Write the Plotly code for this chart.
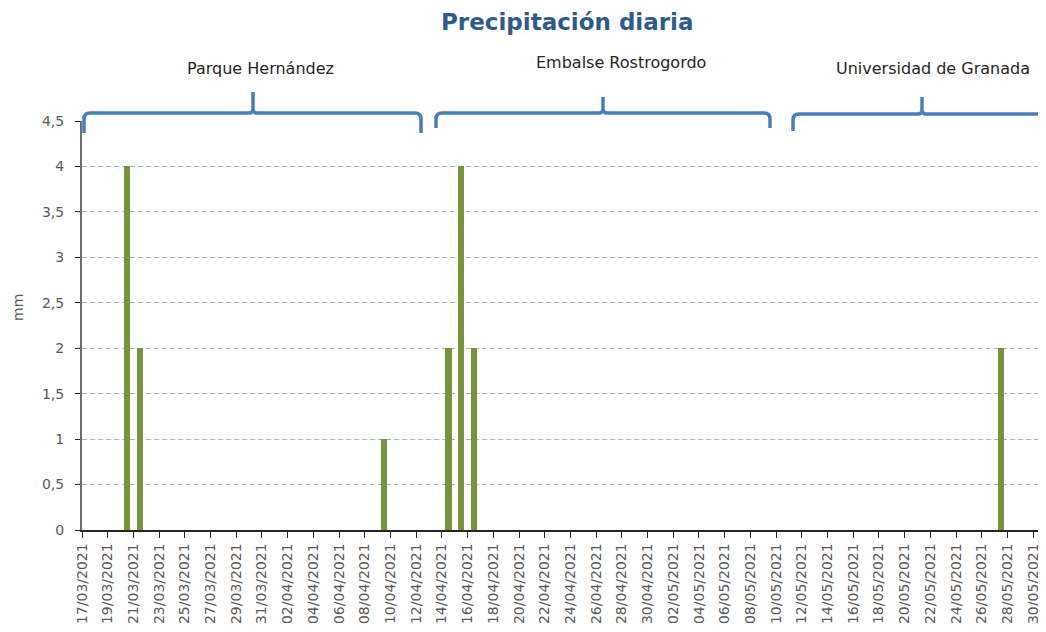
import plotly.graph_objects as go

# ---------------- data ----------------
rain_dates = ["2021-03-20", "2021-03-21", "2021-04-09", "2021-04-14",
              "2021-04-15", "2021-04-16", "2021-05-27"]
rain_mm = [4, 2, 1, 2, 4, 2, 2]

stations = ["Parque Hernández", "Embalse Rostrogordo", "Universidad de Granada"]
title_text = "Precipitación diaria"
y_title = "mm"

# ---------------- layout geometry ----------------
OX, OY = 8, 8            # page body margin of the html page
W, H = 1046 - OX, 632 - OY
L, R, T, B = 82 - OX, 0, 121 - OY, 102
PW, PH = W - L - R, H - T - B

def px_x(px):
    return (px - OX - L) / PW

def px_y(py):
    return (OY + H - B - py) / PH

DAY = 86400000

fig = go.Figure()
fig.add_trace(go.Bar(
    x=rain_dates, y=rain_mm,
    xperiod=DAY, xperiodalignment="middle",
    width=0.5 * DAY,
    marker=dict(color="#77933C", line=dict(width=0)),
    hoverinfo="x+y",
))

# curly braces above the plot
def brace(x0, x1, xm, ybar, yend, ypeak, r=6, r2=4):
    X = px_x
    Y = px_y
    p = (f"M {X(x0)} {Y(yend)} "
         f"L {X(x0)} {Y(ybar + r)} "
         f"Q {X(x0)} {Y(ybar)} {X(x0 + r)} {Y(ybar)} "
         f"L {X(xm - r2)} {Y(ybar)} "
         f"Q {X(xm)} {Y(ybar)} {X(xm)} {Y(ybar - r2)} "
         f"L {X(xm)} {Y(ypeak)} "
         f"L {X(xm)} {Y(ybar - r2)} "
         f"Q {X(xm)} {Y(ybar)} {X(xm + r2)} {Y(ybar)} "
         f"L {X(x1 - r)} {Y(ybar)} "
         f"Q {X(x1)} {Y(ybar)} {X(x1)} {Y(ybar + r)} "
         f"L {X(x1)} {Y(yend)}")
    return dict(type="path", xref="paper", yref="paper", path=p,
                line=dict(color="#4A7EBB", width=3.5), layer="above")

brace_geom = [
    (84, 421, 253, 113, 133, 92),
    (436, 770, 603, 113, 128, 97),
    (793, 1052, 922, 114, 131, 97),
]
shapes = [brace(*g) for g in brace_geom]

label_pos = [(260, 68), (621, 63), (933, 68)]
annotations = []
for name, (lx, ly) in zip(stations, label_pos):
    annotations.append(dict(
        text=name, xref="paper", yref="paper", x=px_x(lx), y=px_y(ly),
        xanchor="center", yanchor="middle", showarrow=False,
        font=dict(family="DejaVu Sans", size=16, color="#262626")))
annotations.append(dict(
    text=title_text, xref="paper", yref="paper", x=px_x(567), y=px_y(22),
    xanchor="center", yanchor="middle", showarrow=False,
    font=dict(family="DejaVu Sans", size=23, color="#2F5B8C", weight="bold")))
annotations.append(dict(
    text=y_title, xref="paper", yref="paper", x=px_x(18), y=px_y(308),
    xanchor="center", yanchor="middle", showarrow=False, textangle=-90,
    borderpad=0,
    font=dict(family="DejaVu Sans", size=14, color="#595959")))

fig.update_layout(
    width=W, height=H,
    margin=dict(l=L, r=R, t=T, b=B, pad=0),
    paper_bgcolor="white", plot_bgcolor="white",
    separators=", ",
    showlegend=False,
    bargap=0,
    shapes=shapes,
    annotations=annotations,
    font=dict(family="DejaVu Sans", color="#595959"),
    xaxis=dict(
        type="date",
        range=["2021-03-17", "2021-05-31"],
        tickmode="linear", tick0="2021-03-17", dtick=2 * DAY,
        tickformat="%d/%m/%Y", tickangle=-90,
        tickfont=dict(family="DejaVu Sans", size=14, color="#595959"),
        ticks="outside", ticklen=6, tickcolor="#262626", tickwidth=1,
        showline=True, linecolor="#262626", linewidth=1.5,
        showgrid=False, zeroline=False,
    ),
    yaxis=dict(
        range=[0, 4.5], tickmode="linear", tick0=0, dtick=0.5,
        tickfont=dict(family="DejaVu Sans", size=14, color="#595959"),
        ticks="outside", ticklen=5, tickcolor="#262626", tickwidth=1,
        ticklabelstandoff=8,
        showline=True, linecolor="#6E6E6E", linewidth=2,
        showgrid=True, gridcolor="#A0B4D0", griddash="5px,3px", gridwidth=1,
        zeroline=False,
    ),
)

fig.write_html("out.html")
